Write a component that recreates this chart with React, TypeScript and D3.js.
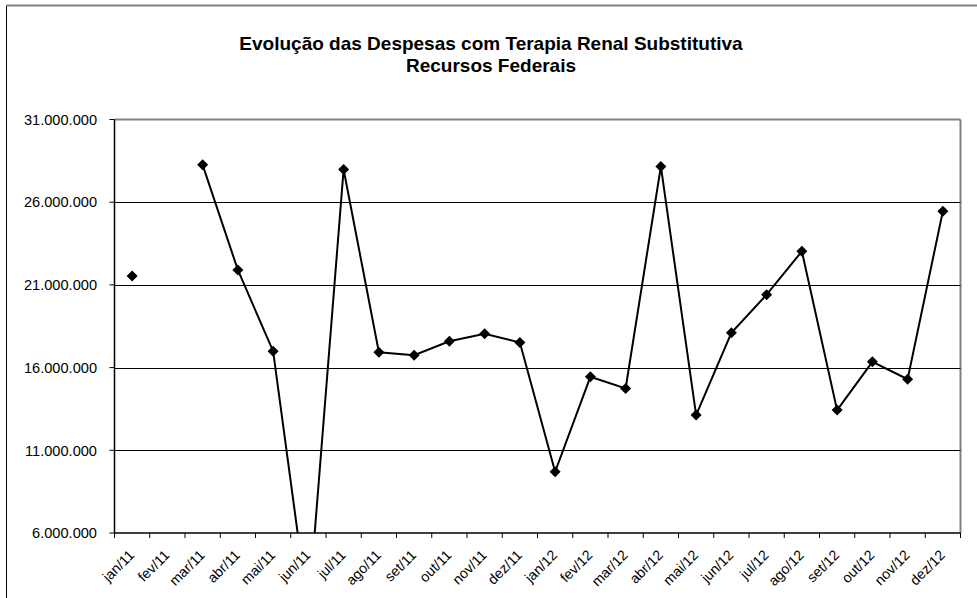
import React from "react";
import * as d3 from "d3";

const categories = [
  "jan/11", "fev/11", "mar/11", "abr/11", "mai/11", "jun/11", "jul/11", "ago/11",
  "set/11", "out/11", "nov/11", "dez/11", "jan/12", "fev/12", "mar/12", "abr/12",
  "mai/12", "jun/12", "jul/12", "ago/12", "set/12", "out/12", "nov/12", "dez/12",
];

const values: (number | null)[] = [
  21540000, null, 28260000, 21900000, 16990000, 1200000, 27980000, 16930000,
  16750000, 17590000, 18040000, 17520000, 9700000, 15440000, 14740000, 28160000,
  13130000, 18100000, 20410000, 23030000, 13430000, 16350000, 15300000, 25460000,
];

const yTicks = [6000000, 11000000, 16000000, 21000000, 26000000, 31000000];

const titleLines = [
  "Evolução das Despesas com Terapia Renal Substitutiva",
  "Recursos Federais",
];

const fmt = (v: number) =>
  String(v).replace(/\B(?=(\d{3})+(?!\d))/g, ".");

export default function App() {
  const W = 977;
  const H = 598;
  const left = 114.5;
  const right = 960.5;
  const top = 119.5;
  const bottom = 533;

  const x = d3.scaleBand<string>().domain(categories).range([left, right]).padding(0);
  const y = d3.scaleLinear().domain([6000000, 31000000]).range([bottom, top]);

  const pts = categories.map((c, i) => ({ c, v: values[i] }));
  const line = d3
    .line<{ c: string; v: number | null }>()
    .defined((d) => d.v !== null)
    .x((d) => (x(d.c) as number) + x.bandwidth() / 2)
    .y((d) => y(d.v as number));

  const font = "Arial, 'Liberation Sans', sans-serif";
  const boundaries = categories.map((c) => x(c) as number).concat([right]);

  return (
    <svg
      width={W}
      height={H}
      style={{ position: "absolute", left: 0, top: 0, background: "#fff" }}
      fontFamily={font}
    >
      <rect x={0} y={0} width={W} height={H} fill="#fff" />
      {/* outer frame */}
      <line x1={6.5} x2={6.5} y1={5} y2={H} stroke="#000" strokeWidth={1} />
      <line x1={6} x2={W} y1={5.5} y2={5.5} stroke="#808080" strokeWidth={2} />

      {/* title */}
      {titleLines.map((t, i) => (
        <text
          key={i}
          x={491}
          y={50 + i * 22}
          textAnchor="middle"
          fontWeight="bold"
          fontSize={19}
          fill="#000"
        >
          {t}
        </text>
      ))}

      {/* plot area border */}
      <line x1={left} x2={right} y1={top} y2={top} stroke="#808080" strokeWidth={2} />
      <line x1={right} x2={right} y1={top} y2={bottom} stroke="#808080" strokeWidth={2} />

      {/* gridlines */}
      {yTicks
        .filter((t) => t !== 6000000 && t !== 31000000)
        .map((t) => (
          <line
            key={t}
            x1={left}
            x2={right}
            y1={Math.round(y(t)) + 0.5}
            y2={Math.round(y(t)) + 0.5}
            stroke="#000"
            strokeWidth={1}
          />
        ))}

      {/* y axis */}
      <line x1={left} x2={left} y1={top} y2={bottom} stroke="#000" strokeWidth={1.5} />
      {yTicks.map((t) => (
        <g key={t}>
          <line x1={left - 5} x2={left} y1={y(t)} y2={y(t)} stroke="#000" strokeWidth={1} />
          <text
            x={97}
            y={y(t)}
            dy="0.36em"
            textAnchor="end"
            fontSize={14.6}
            fill="#000"
          >
            {fmt(t)}
          </text>
        </g>
      ))}

      {/* x axis */}
      <line x1={left} x2={right} y1={bottom} y2={bottom} stroke="#000" strokeWidth={1.5} />
      {boundaries.map((b, i) => (
        <line key={i} x1={b} x2={b} y1={bottom} y2={bottom + 5} stroke="#000" strokeWidth={1} />
      ))}
      {categories.map((c) => {
        const cx = (x(c) as number) + x.bandwidth() / 2 - 4;
        const cy = bottom + 16;
        return (
          <text
            key={c}
            x={cx}
            y={cy}
            dy="0.7em"
            textAnchor="end"
            fontSize={14.2}
            fill="#000"
            transform={`rotate(-45 ${cx} ${cy})`}
          >
            {c}
          </text>
        );
      })}

      <defs>
        <clipPath id="plotclip">
          <rect x={left} y={top - 10} width={right - left} height={bottom - top + 10} />
        </clipPath>
      </defs>
      <g clipPath="url(#plotclip)">
        <path d={line(pts) || ""} fill="none" stroke="#000" strokeWidth={2} />
        {pts
          .filter((p) => p.v !== null && (p.v as number) >= 6000000)
          .map((p) => {
            const cx = (x(p.c) as number) + x.bandwidth() / 2;
            const cy = y(p.v as number);
            const s = 5.5;
            return (
              <path
                key={p.c}
                d={`M${cx},${cy - s}L${cx + s},${cy}L${cx},${cy + s}L${cx - s},${cy}Z`}
                fill="#000"
              />
            );
          })}
      </g>
    </svg>
  );
}
